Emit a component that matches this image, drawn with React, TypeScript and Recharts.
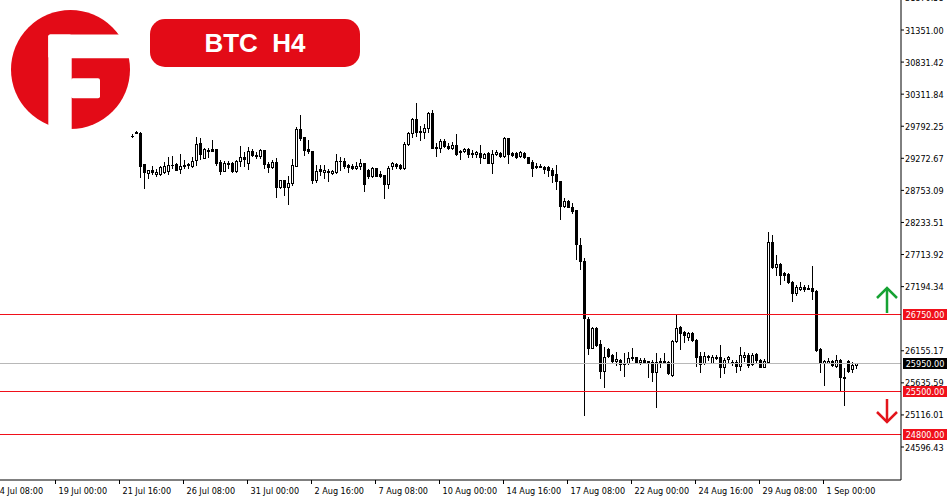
import { ComposedChart, Bar, XAxis, YAxis, ReferenceLine } from 'recharts';

// BTC H4 candles, oldest first
const opens = [
  29640, 29690, 29687, 29175, 29039, 29078, 29023, 29018, 29051, 29072,
  29159, 29188, 29099, 29153, 29169, 29156, 29245, 29520, 29285, 29399,
  29418, 29418, 29218, 29072, 29196, 29204, 29070, 29237, 29290, 29196,
  29391, 29334, 29318, 29404, 29177, 29135, 29213, 28800, 28921, 28816,
  28869, 29153, 29744, 29610, 29423, 29394, 28921, 29099, 29059, 29067,
  29038, 29046, 29229, 29229, 29164, 29143, 29111, 29148, 29191, 29083,
  28991, 29111, 29023, 29002, 28851, 29143, 29185, 29164, 29120, 29499,
  29678, 29909, 29715, 29694, 29768, 30002, 29461, 29434, 29553, 29477,
  29434, 29488, 29391, 29391, 29418, 29363, 29347, 29363, 29282, 29363,
  29191, 29342, 29363, 29315, 29597, 29363, 29363, 29315, 29358, 29294,
  29208, 29153, 29135, 29137, 29132, 29083, 29015, 28905, 28505, 28581,
  28489, 28435, 27863, 27609, 26669, 26204, 26528, 26264, 25832, 26183,
  26086, 25994, 26005, 25961, 25951, 26037, 26049, 25968, 26005, 25989,
  25968, 25806, 25977, 25977, 25977, 25762, 26318, 26535, 26463, 26382,
  26442, 26337, 26070, 25951, 26070, 25961, 26042, 26058, 25887, 26016,
  25977, 25977, 25908, 26058, 26086, 25940, 26097, 26005, 25897, 25977,
  27921, 27517, 27560, 27409, 27398, 27274, 27095, 27160, 27183, 27160,
  27167, 27128, 26178, 25961, 25961, 25984, 25908, 26005, 25713, 25994,
  25854, 25930,
];

const highs = [
  29662, 29715, 29699, 29180, 29091, 29148, 29099, 29153, 29213, 29294,
  29310, 29196, 29350, 29245, 29196, 29302, 29622, 29597, 29434, 29434,
  29569, 29423, 29240, 29229, 29229, 29217, 29240, 29472, 29370, 29456,
  29431, 29370, 29423, 29407, 29217, 29240, 29277, 28929, 28929, 28994,
  29258, 29772, 29974, 29618, 29569, 29399, 29164, 29164, 29164, 29099,
  29083, 29350, 29299, 29273, 29175, 29175, 29217, 29261, 29196, 29099,
  29137, 29120, 29067, 29010, 29143, 29217, 29196, 29175, 29541, 29703,
  29930, 30164, 29801, 29823, 30027, 30055, 29515, 29585, 29585, 29515,
  29541, 29661, 29407, 29434, 29434, 29407, 29391, 29488, 29353, 29380,
  29412, 29407, 29380, 29618, 29606, 29380, 29380, 29391, 29380, 29299,
  29240, 29191, 29180, 29153, 29153, 29111, 29161, 28913, 28624, 28597,
  28543, 28443, 27977, 27653, 26706, 26535, 26535, 26329, 26220, 26194,
  26102, 26139, 26021, 26113, 26139, 26194, 26058, 26032, 26032, 25994,
  26005, 26113, 26032, 26113, 25994, 26329, 26750, 26556, 26480, 26463,
  26463, 26345, 26139, 26139, 26086, 26086, 26086, 26248, 26032, 26070,
  26005, 26005, 26211, 26139, 26113, 26123, 26123, 26016, 26016, 28083,
  28030, 27706, 27571, 27435, 27419, 27285, 27220, 27274, 27220, 27220,
  27528, 27139, 26194, 26005, 26032, 26005, 26086, 26016, 25871, 26005,
  25978, 25961,
];

const lows = [
  29618, 29682, 28970, 28791, 28949, 29013, 28991, 29002, 29034, 29023,
  29111, 29078, 29034, 29120, 29115, 29132, 29164, 29261, 29273, 29298,
  29391, 29164, 29023, 29067, 29111, 29055, 29055, 29153, 29143, 29099,
  29305, 29282, 29273, 29115, 29051, 29111, 28651, 28791, 28678, 28529,
  28840, 29143, 29574, 29326, 29358, 28872, 28889, 29002, 28949, 28905,
  29026, 29030, 29083, 29111, 29046, 29099, 29099, 29099, 28743, 28958,
  28974, 28981, 28970, 28634, 28796, 29099, 29111, 29099, 29099, 29488,
  29623, 29639, 29564, 29597, 29694, 29434, 29315, 29380, 29461, 29423,
  29423, 29326, 29261, 29380, 29298, 29298, 29293, 29191, 29273, 29191,
  29039, 29326, 29293, 29298, 29191, 29310, 29282, 29298, 29282, 29191,
  28991, 29111, 29127, 29039, 28986, 28897, 28783, 28284, 28479, 28479,
  28382, 27646, 27474, 25114, 26102, 26194, 26232, 25708, 25572, 26058,
  25977, 25924, 25843, 25746, 25940, 26005, 25951, 25940, 25961, 25735,
  25670, 25249, 25897, 25951, 25778, 25746, 26302, 26178, 26302, 26329,
  26318, 25916, 25815, 25940, 26005, 25951, 26016, 25735, 25799, 25961,
  25924, 25815, 25843, 25994, 25897, 25924, 25977, 25887, 25887, 25951,
  27490, 27382, 27231, 27301, 27247, 26966, 27058, 27139, 27123, 27150,
  26995, 26156, 25815, 25600, 25951, 25908, 25897, 25519, 25276, 25815,
  25815, 25871,
];

const closes = [
  29630, 29700, 29153, 29051, 29083, 29046, 29055, 29124, 29143, 29172,
  29172, 29091, 29148, 29169, 29180, 29237, 29512, 29342, 29420, 29415,
  29399, 29196, 29075, 29193, 29175, 29070, 29224, 29290, 29269, 29391,
  29326, 29318, 29404, 29177, 29140, 29217, 28800, 28921, 28800, 28869,
  29164, 29747, 29597, 29415, 29399, 28929, 29067, 29063, 29091, 29046,
  29063, 29229, 29234, 29153, 29132, 29120, 29153, 29191, 28851, 28991,
  29111, 28991, 28991, 28851, 29120, 29191, 29153, 29120, 29499, 29678,
  29909, 29703, 29694, 29768, 30002, 29444, 29434, 29553, 29477, 29444,
  29488, 29347, 29370, 29418, 29337, 29342, 29370, 29294, 29342, 29201,
  29337, 29370, 29310, 29597, 29337, 29326, 29299, 29370, 29294, 29201,
  29120, 29127, 29153, 29104, 29078, 29005, 28908, 28505, 28581, 28489,
  28414, 27879, 27614, 26681, 26194, 26519, 26248, 25832, 26049, 26075,
  25994, 26016, 25940, 25940, 26032, 26058, 25968, 26005, 25977, 25961,
  25806, 25977, 25994, 25994, 25790, 26318, 26519, 26447, 26405, 26437,
  26329, 26058, 25940, 26070, 26049, 26058, 26058, 25887, 26005, 26049,
  25951, 25908, 26086, 26086, 25924, 26086, 26005, 25897, 25994, 27921,
  27507, 27560, 27382, 27382, 27274, 27085, 27183, 27183, 27155, 27176,
  27128, 26167, 25961, 25994, 25994, 25919, 26005, 25735, 25735, 25832,
  25929, 25950,
];

// time axis: bar index of each label
const tickIndexes = [-35, -19, -3, 13, 29, 45, 61, 77, 93, 109, 125, 141, 157, 173];
const tickLabels = [
  '14 Jul 08:00', '19 Jul 00:00', '21 Jul 16:00', '26 Jul 08:00', '31 Jul 00:00',
  '2 Aug 16:00', '7 Aug 08:00', '10 Aug 00:00', '14 Aug 16:00', '17 Aug 08:00',
  '22 Aug 00:00', '24 Aug 16:00', '29 Aug 08:00', '1 Sep 00:00',
];

const priceTicks = [
  24596.43, 25116.01, 25635.59, 26155.17, 27194.34, 27713.92, 28233.51,
  28753.09, 29272.67, 29792.25, 30311.84, 30831.42, 31351.0, 31870.58,
];

// horizontal levels
const levelPrices = [26750, 25950, 25500, 24800];
const levelColors = ['#f0101a', '#b8b8b8', '#f0101a', '#f0101a'];
const levelTagColors = ['#f0101a', '#000', '#f0101a', '#f0101a'];
const levelArrows = ['up', '', 'down', ''];

const FONT = "'DejaVu Sans Condensed', 'Liberation Sans', sans-serif";
const LOGO_RED = '#e30b17';

const data = opens.map((o, i) => ({
  idx: i,
  open: o,
  high: highs[i],
  low: lows[i],
  close: closes[i],
}));

function Candle(props: any) {
  const { x, y, width, height, payload } = props;
  if (x == null || !payload) return null;
  const { open, close, high, low } = payload;
  const range = high - low || 1;
  const top = Math.min(y, y + height);
  const h = Math.abs(height);
  const toY = (v: number) => top + ((high - v) / range) * h;
  const cx = Math.round(x + width / 2 - 0.5) + 0.5;
  const yO = Math.round(toY(open));
  const yC = Math.round(toY(close));
  const bodyTop = Math.min(yO, yC);
  const bodyH = Math.abs(yO - yC);
  const bull = close > open;
  return (
    <g shapeRendering="crispEdges">
      <line x1={cx} x2={cx} y1={Math.round(top)} y2={Math.round(top + h) + 1} stroke="#000" />
      {bodyH < 1 ? (
        <line x1={cx - 1.5} x2={cx + 1.5} y1={bodyTop + 0.5} y2={bodyTop + 0.5} stroke="#000" />
      ) : bull ? (
        <rect x={cx - 1} y={bodyTop + 0.5} width={2} height={bodyH} fill="#fff" stroke="#000" />
      ) : (
        <rect x={cx - 1.5} y={bodyTop} width={3} height={bodyH + 1} fill="#000" />
      )}
    </g>
  );
}

function TimeTick(props: any) {
  const { x, y, payload } = props;
  const k = tickIndexes.indexOf(payload.value);
  return (
    <text x={x + 3} y={y + 8} fontSize={9} fontFamily={FONT} fill="#000" textAnchor="start">
      {k >= 0 ? tickLabels[k] : ''}
    </text>
  );
}

function PriceTick(props: any) {
  const { x, y, payload } = props;
  return (
    <text x={x} y={y + 3.5} fontSize={9} fontFamily={FONT} fill="#000" textAnchor="start">
      {payload.value.toFixed(2)}
    </text>
  );
}

function LevelTag(props: any) {
  const { viewBox, k } = props;
  if (!viewBox) return null;
  const right = viewBox.x + viewBox.width;
  const ly = Math.round(viewBox.y);
  const ax = right - 14;
  return (
    <g>
      <rect x={right + 2} y={ly - 5} width={44} height={11} fill={levelTagColors[k]} />
      <text
        x={right + 24}
        y={ly + 3.5}
        fontSize={9}
        fontFamily={FONT}
        fill="#fff"
        textAnchor="middle"
      >
        {levelPrices[k].toFixed(2)}
      </text>
      {levelArrows[k] === 'up' && (
        <g stroke="#16a233" strokeWidth={2.5} fill="none">
          <line x1={ax} x2={ax} y1={ly - 26} y2={ly - 1} />
          <polyline points={`${ax - 10},${ly - 16} ${ax},${ly - 26} ${ax + 10},${ly - 16}`} />
        </g>
      )}
      {levelArrows[k] === 'down' && (
        <g stroke="#e3141b" strokeWidth={2.5} fill="none">
          <line x1={ax} x2={ax} y1={ly + 8} y2={ly + 31} />
          <polyline points={`${ax - 10},${ly + 21} ${ax},${ly + 31} ${ax + 10},${ly + 21}`} />
        </g>
      )}
    </g>
  );
}

function Logo() {
  return (
    <svg width={140} height={140} style={{ position: 'absolute', left: 0, top: 0 }}>
      <defs>
        <mask id="fcut">
          <rect width={140} height={140} fill="#fff" />
          <rect x={48.3} y={34.5} width={23.4} height={110} rx={2} fill="#000" />
          <rect x={48.3} y={34.5} width={95} height={23.8} rx={2} fill="#000" />
          <rect x={71} y={78.3} width={29} height={20} rx={2} fill="#000" />
        </mask>
      </defs>
      <circle cx={70.5} cy={69.5} r={59.5} fill={LOGO_RED} mask="url(#fcut)" />
    </svg>
  );
}

export default function App() {
  return (
    <div style={{ position: 'absolute', left: 0, top: 0, width: 950, height: 500, overflow: 'hidden', background: '#fff' }}>
      <div style={{ position: 'absolute', left: -20, top: 0 }}>
        <ComposedChart width={970} height={500} data={data} margin={{ top: 0, right: 0, bottom: 0, left: 0 }}>
          <XAxis
            dataKey="idx"
            type="number"
            domain={[-37.875, 192.375]}
            allowDataOverflow
            ticks={tickIndexes}
            interval={0}
            height={20}
            tickSize={4}
            axisLine={{ stroke: '#000' }}
            tickLine={{ stroke: '#000' }}
            tick={<TimeTick />}
          />
          <YAxis
            orientation="right"
            type="number"
            domain={[24062, 31837]}
            allowDataOverflow
            ticks={priceTicks}
            interval={0}
            width={49}
            tickSize={3}
            tickMargin={1}
            axisLine={{ stroke: '#000' }}
            tickLine={{ stroke: '#000' }}
            tick={<PriceTick />}
          />
          {levelPrices.map((p, k) => (
            <ReferenceLine
              key={p}
              y={p}
              stroke={levelColors[k]}
              strokeWidth={1}
              shapeRendering="crispEdges"
              label={(lp: any) => <LevelTag {...lp} k={k} />}
            />
          ))}
          <Bar
            dataKey={(d: any) => [d.low, d.high]}
            barSize={3}
            shape={(p: any) => <Candle {...p} />}
            isAnimationActive={false}
          />
        </ComposedChart>
      </div>
      <Logo />
      <div
        style={{
          position: 'absolute',
          left: 150,
          top: 19,
          width: 210,
          height: 48,
          borderRadius: 15,
          background: LOGO_RED,
          color: '#fff',
          display: 'flex',
          alignItems: 'center',
          justifyContent: 'center',
          fontFamily: "'Liberation Sans', Arial, sans-serif",
          fontWeight: 700,
          fontSize: 26,
          whiteSpace: 'pre',
        }}
      >
        {'BTC  H4'}
      </div>
    </div>
  );
}
